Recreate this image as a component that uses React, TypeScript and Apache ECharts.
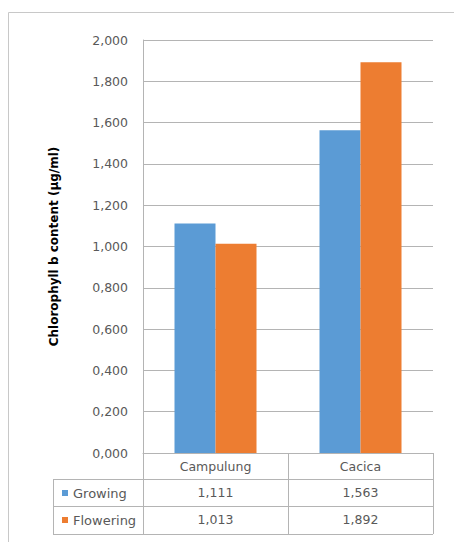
import React, { useEffect, useRef } from "react";
import * as echarts from "echarts";

const categories = ["Campulung", "Cacica"];
const seriesNames = ["Growing", "Flowering"];
const growing = [1.111, 1.563];
const flowering = [1.013, 1.892];
const yMin = 0;
const yMax = 2;
const yInterval = 0.2;
const yTitle = "Chlorophyll b content (µg/ml)";

const W = 454;
const H = 542;
const GL = 143;
const GR = 433;
const GT = 40;
const GB = 453;
const ROW1 = 479;
const ROW2 = 506;
const ROW3 = 534;
const LEG_L = 53;

const fmt = (v: number) => v.toFixed(3).replace(".", ",");
const FONT = "DejaVu Sans";
const TXT = "#595959";
const LINE = "#b4b4b4";

export default function App() {
  const ref = useRef<HTMLDivElement>(null);
  useEffect(() => {
    document.body.style.margin = "0";
    const chart = echarts.init(ref.current!, null, { renderer: "svg" });
    const catW = (GR - GL) / categories.length;
    const lines: any[] = [];
    const hl = (x1: number, x2: number, y: number) =>
      lines.push({ type: "line", shape: { x1, y1: y, x2, y2: y }, style: { stroke: LINE, lineWidth: 1 }, silent: true });
    const vl = (x: number, y1: number, y2: number) =>
      lines.push({ type: "line", shape: { x1: x, y1, x2: x, y2 }, style: { stroke: LINE, lineWidth: 1 }, silent: true });
    hl(LEG_L, GR, ROW1 + 0.5);
    hl(LEG_L, GR, ROW2 + 0.5);
    hl(LEG_L, GR, ROW3 + 0.5);
    vl(LEG_L + 0.5, ROW1, ROW3);
    vl(GL + 0.5, GB, ROW3);
    for (let i = 1; i <= categories.length; i++) vl(Math.round(GL + catW * i) + 0.5, GB, ROW3);

    chart.setOption({
      animation: false,
      textStyle: { fontFamily: FONT },
      grid: { left: GL, right: W - GR, top: GT, bottom: H - GB, containLabel: false },
      legend: {
        orient: "vertical",
        left: 62,
        top: 486,
        itemWidth: 6,
        itemHeight: 6,
        itemGap: 13,
        icon: "rect",
        padding: 0,
        textStyle: { color: TXT, fontSize: 13, lineHeight: 14, fontFamily: FONT },
        data: seriesNames,
      },
      xAxis: {
        type: "category",
        data: categories,
        axisLine: { show: true, lineStyle: { color: LINE } },
        axisTick: { show: false },
        axisLabel: {
          margin: 0,
          interval: 0,
          color: TXT,
          fontFamily: FONT,
          formatter: (v: string, i: number) =>
            `{c|${v}}\n{v|${fmt(growing[i])}}\n{v|${fmt(flowering[i])}}`,
          rich: {
            c: { fontSize: 12.5, lineHeight: 26, color: TXT, fontFamily: FONT },
            v: { fontSize: 12.5, lineHeight: 27, color: TXT, fontFamily: FONT },
          },
        },
      },
      yAxis: {
        type: "value",
        min: yMin,
        max: yMax,
        interval: yInterval,
        name: yTitle,
        nameLocation: "middle",
        nameRotate: 90,
        nameGap: 83,
        nameTextStyle: { fontWeight: "bold", fontSize: 12, color: "#000", fontFamily: FONT },
        axisLine: { show: true, lineStyle: { color: LINE } },
        axisTick: { show: false },
        axisLabel: { margin: 15, color: TXT, fontSize: 12.5, fontFamily: FONT, formatter: (v: number) => fmt(v) },
        splitLine: { lineStyle: { color: LINE } },
      },
      series: [
        { name: seriesNames[0], type: "bar", data: growing, barWidth: 41, barGap: "0%", itemStyle: { color: "#5B9BD5" } },
        { name: seriesNames[1], type: "bar", data: flowering, barWidth: 41, barGap: "0%", itemStyle: { color: "#ED7D31" } },
      ],
      graphic: [
        {
          type: "rect",
          shape: { x: 8.5, y: 12.5, width: 480, height: 560 },
          style: { fill: "none", stroke: "#c8c8c8", lineWidth: 1 },
          silent: true,
          z: -1,
        },
        ...lines,
      ],
    });
    return () => chart.dispose();
  }, []);
  return <div ref={ref} style={{ width: W, height: H }} />;
}
